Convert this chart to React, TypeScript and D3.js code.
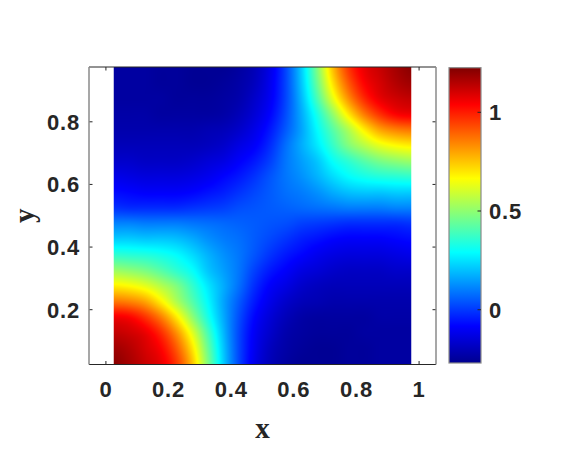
import React, { useMemo } from 'react';
import * as d3 from 'd3';

// grid nodes of the field (x across, y up)
const gridX = [0.025, 0.075, 0.125, 0.175, 0.225, 0.275, 0.325, 0.375, 0.425, 0.475,
  0.525, 0.575, 0.625, 0.675, 0.725, 0.775, 0.825, 0.875, 0.925, 0.975];
const gridY = [0.025, 0.075, 0.125, 0.175, 0.225, 0.275, 0.325, 0.375, 0.425, 0.475,
  0.525, 0.575, 0.625, 0.675, 0.725, 0.775, 0.825, 0.875, 0.925, 0.975];

// fieldRows[k] holds the values along y = gridY[k]
const fieldRows = [
  [1.21, 1.17, 1.12, 1.07, 0.96, 0.76, 0.48, 0.22, 0.02, -0.12, -0.20, -0.24, -0.26, -0.26, -0.26, -0.25, -0.25, -0.24, -0.24, -0.24],
  [1.18, 1.15, 1.10, 1.04, 0.91, 0.71, 0.45, 0.21, 0.02, -0.11, -0.19, -0.23, -0.25, -0.26, -0.26, -0.25, -0.25, -0.24, -0.24, -0.24],
  [1.13, 1.11, 1.07, 0.98, 0.83, 0.63, 0.40, 0.19, 0.02, -0.10, -0.17, -0.22, -0.24, -0.25, -0.25, -0.25, -0.24, -0.24, -0.24, -0.24],
  [1.06, 1.04, 0.97, 0.86, 0.70, 0.51, 0.33, 0.17, 0.03, -0.08, -0.15, -0.20, -0.23, -0.24, -0.24, -0.24, -0.24, -0.23, -0.23, -0.23],
  [0.87, 0.85, 0.80, 0.69, 0.55, 0.42, 0.29, 0.16, 0.05, -0.05, -0.12, -0.17, -0.20, -0.21, -0.22, -0.22, -0.22, -0.22, -0.22, -0.22],
  [0.69, 0.67, 0.63, 0.56, 0.48, 0.37, 0.26, 0.17, 0.08, -0.02, -0.09, -0.13, -0.17, -0.19, -0.20, -0.20, -0.20, -0.20, -0.20, -0.20],
  [0.52, 0.50, 0.47, 0.42, 0.36, 0.30, 0.21, 0.15, 0.09, 0.01, -0.05, -0.09, -0.13, -0.15, -0.17, -0.18, -0.18, -0.18, -0.17, -0.17],
  [0.36, 0.35, 0.34, 0.32, 0.29, 0.24, 0.18, 0.13, 0.09, 0.04, -0.01, -0.05, -0.08, -0.11, -0.13, -0.14, -0.14, -0.14, -0.13, -0.12],
  [0.22, 0.22, 0.21, 0.21, 0.20, 0.17, 0.13, 0.10, 0.08, 0.05, 0.02, -0.01, -0.04, -0.06, -0.08, -0.09, -0.09, -0.09, -0.08, -0.07],
  [0.11, 0.11, 0.10, 0.10, 0.10, 0.09, 0.08, 0.07, 0.06, 0.05, 0.04, 0.03, 0.01, 0.00, -0.01, -0.02, -0.02, -0.02, -0.02, -0.01],
  [-0.01, -0.02, -0.02, -0.02, -0.02, -0.01, 0.00, 0.01, 0.03, 0.04, 0.05, 0.06, 0.07, 0.08, 0.09, 0.10, 0.10, 0.10, 0.11, 0.11],
  [-0.07, -0.08, -0.09, -0.09, -0.09, -0.08, -0.06, -0.04, -0.01, 0.02, 0.05, 0.08, 0.10, 0.13, 0.17, 0.20, 0.21, 0.21, 0.22, 0.22],
  [-0.12, -0.13, -0.14, -0.14, -0.14, -0.13, -0.11, -0.08, -0.05, -0.01, 0.04, 0.09, 0.13, 0.18, 0.24, 0.29, 0.32, 0.34, 0.35, 0.36],
  [-0.17, -0.17, -0.18, -0.18, -0.18, -0.17, -0.15, -0.13, -0.09, -0.05, 0.01, 0.09, 0.15, 0.21, 0.30, 0.36, 0.42, 0.47, 0.50, 0.52],
  [-0.20, -0.20, -0.20, -0.20, -0.20, -0.20, -0.19, -0.17, -0.13, -0.09, -0.02, 0.08, 0.17, 0.26, 0.37, 0.48, 0.56, 0.63, 0.67, 0.69],
  [-0.22, -0.22, -0.22, -0.22, -0.22, -0.22, -0.21, -0.20, -0.17, -0.12, -0.05, 0.05, 0.16, 0.29, 0.42, 0.55, 0.69, 0.80, 0.85, 0.87],
  [-0.23, -0.23, -0.23, -0.24, -0.24, -0.24, -0.24, -0.23, -0.20, -0.15, -0.08, 0.03, 0.17, 0.33, 0.51, 0.70, 0.86, 0.97, 1.04, 1.06],
  [-0.24, -0.24, -0.24, -0.24, -0.25, -0.25, -0.25, -0.24, -0.22, -0.17, -0.10, 0.02, 0.19, 0.40, 0.63, 0.83, 0.98, 1.07, 1.11, 1.13],
  [-0.24, -0.24, -0.24, -0.25, -0.25, -0.26, -0.26, -0.25, -0.23, -0.19, -0.11, 0.02, 0.21, 0.45, 0.71, 0.91, 1.04, 1.10, 1.15, 1.18],
  [-0.24, -0.24, -0.24, -0.25, -0.25, -0.26, -0.26, -0.26, -0.24, -0.20, -0.12, 0.02, 0.22, 0.48, 0.76, 0.96, 1.07, 1.12, 1.17, 1.21],
];

const xTicks = [0, 0.2, 0.4, 0.6, 0.8, 1];
const yTicks = [0.2, 0.4, 0.6, 0.8];
const cbarTicks = [0, 0.5, 1];
const colorLimits = [-0.27, 1.226];

// MATLAB jet
const jetPos = [0, 0.125, 0.375, 0.625, 0.875, 1];
const jetColors = ['#00008f', '#0000ff', '#00ffff', '#ffff00', '#ff0000', '#800000'];

const W = 566, H = 454;
const box = { left: 89, right: 436, top: 67, bottom: 364.5 };
const cbar = { left: 449, right: 481, top: 67.7, bottom: 363 };
const ink = '#262626';
const tickFont = '"Liberation Sans", Arial, Helvetica, sans-serif';
const labelFont = '"Liberation Serif", "Times New Roman", Times, serif';

function catmull(p0: number, p1: number, p2: number, p3: number, t: number) {
  return p1 + 0.5 * t * (p2 - p0 + t * (2 * p0 - 5 * p1 + 4 * p2 - p3 + t * (3 * (p1 - p2) + p3 - p0)));
}

function sampleField(u: number, v: number) {
  const nx = gridX.length, ny = gridY.length;
  const i = Math.min(Math.max(Math.floor(u), 0), nx - 2);
  const j = Math.min(Math.max(Math.floor(v), 0), ny - 2);
  const tx = u - i, ty = v - j;
  const cx = (k: number) => Math.min(Math.max(k, 0), nx - 1);
  const cy = (k: number) => Math.min(Math.max(k, 0), ny - 1);
  const rowAt = (jj: number) => {
    const r = fieldRows[cy(jj)];
    return catmull(r[cx(i - 1)], r[cx(i)], r[cx(i + 1)], r[cx(i + 2)], tx);
  };
  return catmull(rowAt(j - 1), rowAt(j), rowAt(j + 1), rowAt(j + 2), ty);
}

export default function App() {
  const pxPerUnit = (box.bottom - box.top) / (gridY[gridY.length - 1] - gridY[0]);
  const halfX = (box.right - box.left) / 2 / pxPerUnit;
  const x = d3.scaleLinear().domain([0.5 - halfX, 0.5 + halfX]).range([box.left, box.right]);
  const y = d3.scaleLinear().domain([gridY[0], gridY[gridY.length - 1]]).range([box.bottom, box.top]);

  const [cMin, cMax] = colorLimits;
  const jet = d3.scaleLinear<string>()
    .domain(jetPos.map(t => cMin + t * (cMax - cMin)))
    .range(jetColors)
    .interpolate(d3.interpolateRgb)
    .clamp(true);
  const cy = d3.scaleLinear().domain([cMin, cMax]).range([cbar.bottom, cbar.top]);

  const imgX0 = x(gridX[0]);
  const imgX1 = x(gridX[gridX.length - 1]);
  const imgY0 = y(gridY[gridY.length - 1]);
  const imgY1 = y(gridY[0]);

  const href = useMemo(() => {
    const w = Math.round(imgX1 - imgX0);
    const h = Math.round(imgY1 - imgY0);
    const canvas = document.createElement('canvas');
    canvas.width = w;
    canvas.height = h;
    const ctx = canvas.getContext('2d');
    if (!ctx) return '';
    const img = ctx.createImageData(w, h);
    const ix = d3.scaleLinear().domain([gridX[0], gridX[gridX.length - 1]]).range([0, gridX.length - 1]).clamp(true);
    const iy = d3.scaleLinear().domain([gridY[0], gridY[gridY.length - 1]]).range([0, gridY.length - 1]).clamp(true);
    for (let py = 0; py < h; py++) {
      const v = iy(y.invert(imgY0 + (py + 0.5) * (imgY1 - imgY0) / h));
      for (let px = 0; px < w; px++) {
        const u = ix(x.invert(imgX0 + (px + 0.5) * (imgX1 - imgX0) / w));
        const c = d3.rgb(jet(sampleField(u, v)));
        const k = (py * w + px) * 4;
        img.data[k] = c.r;
        img.data[k + 1] = c.g;
        img.data[k + 2] = c.b;
        img.data[k + 3] = 255;
      }
    }
    ctx.putImageData(img, 0, 0);
    return canvas.toDataURL();
  }, []);

  const tickLen = 3.5;

  return (
    <svg width={W} height={H} style={{ position: 'absolute', left: 0, top: 0, background: '#fff' }}>
      <defs>
        <linearGradient id="jetGrad" x1="0" y1="1" x2="0" y2="0">
          {jetPos.map((t, i) => <stop key={i} offset={t} stopColor={jetColors[i]} />)}
        </linearGradient>
      </defs>

      <rect x={box.left} y={box.top} width={box.right - box.left} height={box.bottom - box.top} fill="#fff" />

      {/* ticks (the image covers the inner ones, as in the original) */}
      <g stroke={ink} strokeWidth={1}>
        {xTicks.map(t => (
          <g key={'xt' + t}>
            <line x1={x(t)} x2={x(t)} y1={box.bottom} y2={box.bottom - tickLen} />
            <line x1={x(t)} x2={x(t)} y1={box.top} y2={box.top + tickLen} />
          </g>
        ))}
        {yTicks.map(t => (
          <g key={'yt' + t}>
            <line x1={box.left} x2={box.left + tickLen} y1={y(t)} y2={y(t)} />
            <line x1={box.right} x2={box.right - tickLen} y1={y(t)} y2={y(t)} />
          </g>
        ))}
      </g>

      {href && (
        <image href={href} x={imgX0} y={imgY0} width={imgX1 - imgX0} height={imgY1 - imgY0}
          preserveAspectRatio="none" />
      )}

      {/* box */}
      <line x1={box.left} x2={box.right} y1={box.top} y2={box.top} stroke={ink} strokeWidth={1} />
      <line x1={box.left} x2={box.right} y1={box.bottom} y2={box.bottom} stroke={ink} strokeWidth={1} />
      <line x1={box.left} x2={box.left} y1={box.top} y2={box.bottom} stroke="#8a8a8a" strokeWidth={1.5} />
      <line x1={box.right} x2={box.right} y1={box.top} y2={box.bottom} stroke="#8a8a8a" strokeWidth={1.5} />

      {/* tick labels */}
      <g fontFamily={tickFont} fontWeight="bold" fontSize={22} fill={ink} letterSpacing={0.8}>
        {xTicks.map(t => (
          <text key={'xl' + t} x={x(t)} y={397} textAnchor="middle">{d3.format('~g')(t)}</text>
        ))}
        {yTicks.map(t => (
          <text key={'yl' + t} x={80} y={y(t)} dy="0.36em" textAnchor="end">{d3.format('~g')(t)}</text>
        ))}
      </g>

      {/* axis labels */}
      <text x={(box.left + box.right) / 2} y={438} textAnchor="middle" fontFamily={labelFont}
        fontWeight="bold" fontSize={29} fill={ink}>x</text>
      <text transform={`translate(34,${(box.top + box.bottom) / 2}) rotate(-90)`} textAnchor="middle"
        fontFamily={labelFont} fontWeight="bold" fontSize={29} fill={ink}>y</text>

      {/* colorbar */}
      <rect x={cbar.left} y={cbar.top} width={cbar.right - cbar.left} height={cbar.bottom - cbar.top}
        fill="url(#jetGrad)" stroke="#8a8a8a" strokeWidth={1.2} />
      <g stroke={ink} strokeWidth={1}>
        {cbarTicks.map(t => (
          <line key={'ct' + t} x1={cbar.right} x2={cbar.right - tickLen} y1={cy(t)} y2={cy(t)} />
        ))}
      </g>
      <g fontFamily={tickFont} fontWeight="bold" fontSize={22} fill={ink} letterSpacing={0.8}>
        {cbarTicks.map(t => (
          <text key={'cl' + t} x={489} y={cy(t)} dy="0.36em">{d3.format('~g')(t)}</text>
        ))}
      </g>
    </svg>
  );
}
